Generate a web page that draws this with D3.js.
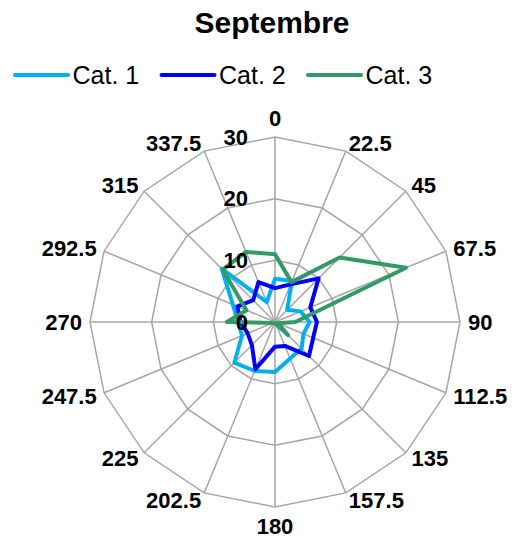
<!DOCTYPE html>
<html>
<head>
<meta charset="utf-8">
<script src="https://cdn.jsdelivr.net/npm/d3@7"></script>
<style>
  html, body { margin: 0; padding: 0; background: #fff; }
  svg { display: block; font-family: "Liberation Sans", Arial, sans-serif; }
</style>
</head>
<body>
<svg id="chart" width="522" height="542"></svg>
<script>
// Wind-direction sectors (degrees) and radial axis ticks
const directions = ["0", "22.5", "45", "67.5", "90", "112.5", "135", "157.5",
                    "180", "202.5", "225", "247.5", "270", "292.5", "315", "337.5"];
const radialTicks = [0, 10, 20, 30];

// Series values, one per direction
const cat1 = [7.0, 7.2, 2.8, 4.5, 5.6, 5.0, 6.1, 6.4, 8.1, 8.6, 9.3, 5.8, 6.0, 7.4, 12.2, 3.5];
const cat2 = [5.5, 6.6, 10.0, 6.2, 6.8, 6.7, 7.8, 4.2, 4.0, 8.3, 5.3, 4.8, 5.6, 6.6, 5.0, 7.0];
const cat3 = [11.0, 7.0, 14.8, 23.0, 3.3, 0.5, 3.0, 0.3, 0.2, 0.2, 0.3, 0.4, 7.8, 5.0, 12.0, 12.3];

const seriesNames = ["Cat. 1", "Cat. 2", "Cat. 3"];
const seriesValues = [cat1, cat2, cat3];
const seriesColors = ["#00B0F0", "#0000FF", "#339966"];

const svg = d3.select("#chart");
const cx = 275, cy = 322, outerR = 185;

const r = d3.scaleLinear().domain([0, 30]).range([0, outerR]);
const angle = d3.scalePoint().domain(directions).range([0, 2 * Math.PI * (15 / 16)]);

// Title
svg.append("text")
  .attr("x", 272).attr("y", 33)
  .attr("text-anchor", "middle")
  .attr("font-size", 30).attr("font-weight", "bold")
  .attr("fill", "#000")
  .text("Septembre");

// Legend
const legend = svg.append("g");
const legendX = [15, 161.5, 308];
seriesNames.forEach((name, i) => {
  const g = legend.append("g").attr("transform", `translate(${legendX[i]},75)`);
  g.append("line").attr("x1", 0).attr("x2", 53).attr("y1", 0).attr("y2", 0)
    .attr("stroke", seriesColors[i]).attr("stroke-width", 4).attr("stroke-linecap", "round");
  g.append("text").attr("x", 57.5).attr("y", 0).attr("dy", "0.35em")
    .attr("font-size", 25).attr("fill", "#000").text(name);
});

const plot = svg.append("g").attr("transform", `translate(${cx},${cy})`);

// Polygonal grid rings
const ring = d3.lineRadial()
  .angle(d => angle(d))
  .radius(function () { return this; })
  .curve(d3.curveLinearClosed);
radialTicks.filter(t => t > 0).forEach(t => {
  const path = d3.lineRadial()
    .angle(d => angle(d))
    .radius(() => r(t))
    .curve(d3.curveLinearClosed);
  plot.append("path").attr("d", path(directions))
    .attr("fill", "none").attr("stroke", "#A6A6A6").attr("stroke-width", 1.5);
});

// Spokes
directions.forEach(d => {
  const a = angle(d);
  plot.append("line")
    .attr("x1", 0).attr("y1", 0)
    .attr("x2", r(30) * Math.sin(a)).attr("y2", -r(30) * Math.cos(a))
    .attr("stroke", "#A6A6A6").attr("stroke-width", 1.5);
});

// Series
const radarLine = d3.lineRadial()
  .angle((v, i) => angle(directions[i]))
  .radius(v => r(v))
  .curve(d3.curveLinearClosed);
seriesValues.forEach((vals, i) => {
  plot.append("path").attr("d", radarLine(vals))
    .attr("fill", "none").attr("stroke", seriesColors[i])
    .attr("stroke-width", 4).attr("stroke-linejoin", "round");
});

// Radial axis labels
radialTicks.forEach(t => {
  plot.append("text")
    .attr("x", -27).attr("y", -r(t)).attr("dy", "0.35em")
    .attr("text-anchor", "end")
    .attr("font-size", 22).attr("font-weight", "bold").attr("fill", "#000")
    .text(t);
});

// Direction labels around the outside
directions.forEach(d => {
  const a = angle(d);
  const s = Math.sin(a), c = Math.cos(a);
  let x = (r(30) + 8) * s, y = -(r(30) + 8) * c;
  let anchor = "middle";
  if (s > 0.1) anchor = "start";
  else if (s < -0.1) anchor = "end";
  if (Math.abs(s) <= 0.1) y += (c > 0 ? -11 : 11);
  plot.append("text")
    .attr("x", x).attr("y", y).attr("dy", "0.35em")
    .attr("text-anchor", anchor)
    .attr("font-size", 22).attr("font-weight", "bold").attr("fill", "#000")
    .text(d);
});
</script>
</body>
</html>
